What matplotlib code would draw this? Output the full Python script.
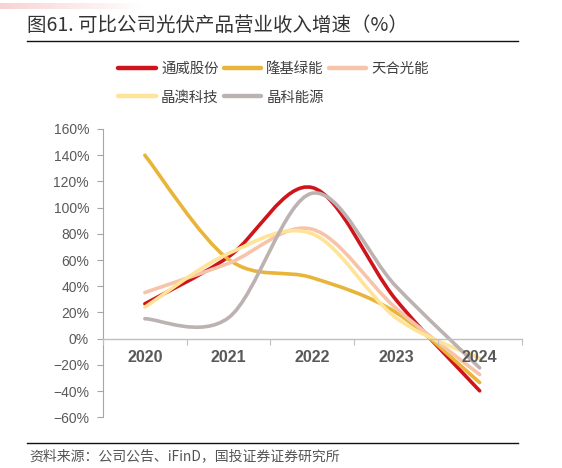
import numpy as np
import matplotlib
matplotlib.use("Agg")
import matplotlib.pyplot as plt
from matplotlib.path import Path
from matplotlib.patches import PathPatch
from matplotlib.lines import Line2D
from matplotlib.ticker import FuncFormatter, FixedLocator

plt.rcParams['font.family'] = ['Noto Sans CJK SC', 'DejaVu Sans']

years = ["2020", "2021", "2022", "2023", "2024"]
tongwei = [26.6, 62.5, 115.3, 29.7, -39.8]
longi = [140.0, 60.5, 46.5, 20.0, -33.5]
trina = [35.2, 57.5, 83.5, 23.3, -27.4]
jaso = [24.0, 65.0, 80.0, 16.0, -15.0]
jinko = [15.2, 16.0, 111.0, 40.0, -22.3]

names = ["通威股份", "隆基绿能", "天合光能", "晶澳科技", "晶科能源"]
colors = ["#D0141C", "#E8B53A", "#F7C4AA", "#FFE397", "#BDB2B2"]
series = [tongwei, longi, trina, jaso, jinko]

TXT = "#595959"


def smooth_path(xs, ys):
    # excel-like smoothed line: cubic bezier through the points
    pts = np.column_stack([xs, ys]).astype(float)
    n = len(pts)
    verts = [tuple(pts[0])]
    codes = [Path.MOVETO]
    for i in range(n - 1):
        p0 = pts[i - 1] if i > 0 else pts[i]
        p3 = pts[i + 2] if i + 2 < n else pts[i + 1]
        c1 = pts[i] + (pts[i + 1] - p0) / 6
        c2 = pts[i + 1] - (p3 - pts[i]) / 6
        verts += [tuple(c1), tuple(c2), tuple(pts[i + 1])]
        codes += [Path.CURVE4] * 3
    return Path(verts, codes)


fig = plt.figure(figsize=(5.62, 4.68), dpi=100)
ax = fig.add_axes([103 / 562, 1 - 417.3 / 468, 418.5 / 562, 288.3 / 468])

x = np.arange(len(years))
for vals, c in zip(series, colors):
    p = PathPatch(smooth_path(x, vals), facecolor="none", edgecolor=c,
                  lw=2.6, capstyle="round", zorder=2)
    ax.add_patch(p)

ax.set_xlim(-0.5, len(years) - 0.5)
ax.set_ylim(-60, 160)
ax.set_yticks(np.arange(-60, 161, 20))
ax.yaxis.set_major_formatter(FuncFormatter(lambda v, _: f"{v:.0f}%".replace("-", "\u2212")))

for s in ["top", "right"]:
    ax.spines[s].set_visible(False)
ax.spines["left"].set_color("#A6A6A6")
ax.spines["left"].set_linewidth(0.8)
ax.spines["bottom"].set_position(("data", 0))
ax.spines["bottom"].set_color("#BFBFBF")
ax.spines["bottom"].set_linewidth(1.0)

ax.set_xticks(x)
ax.set_xticklabels(years)
ax.xaxis.set_minor_locator(FixedLocator(np.arange(-0.5, len(years), 1.0)))
ax.tick_params(axis="x", which="major", length=0, pad=8, labelsize=11.5, labelcolor=TXT)
ax.tick_params(axis="x", which="minor", length=4, width=0.8, color="#BFBFBF", direction="out")
ax.tick_params(axis="y", length=4, width=0.8, color="#A6A6A6", pad=6, labelsize=10, labelcolor=TXT)
for lab in ax.get_xticklabels() + ax.get_yticklabels():
    lab.set_fontfamily(["Liberation Sans", "DejaVu Sans"])
for lab in ax.get_xticklabels():
    lab.set_fontweight("bold")
# year labels sit on top of the lines, like the source
ax.xaxis.set_zorder(3)

# legend, reordered so rows read left to right
handles = [Line2D([], [], color=c, lw=3.2, solid_capstyle="round") for c in colors]
order = [0, 3, 1, 4, 2]
fig.legend([handles[i] for i in order], [names[i] for i in order], ncol=3,
           loc="center", bbox_to_anchor=(0.487, 0.822), frameon=False,
           fontsize=10.4, handlelength=2.6, handletextpad=0.35,
           columnspacing=0.35, labelspacing=1.0, labelcolor="#404040")

# title and rules
fig.text(27 / 562, 1 - 25 / 468, "图61. 可比公司光伏产品营业收入增速（%）", fontsize=14,
         fontweight="medium", color="#333333", va="center", ha="left")
fig.add_artist(Line2D([27 / 562, 518 / 562], [1 - 40.5 / 468] * 2, color="#111111", lw=1.0))
fig.add_artist(Line2D([27 / 562, 518 / 562], [1 - 443 / 468] * 2, color="#111111", lw=1.0))
fig.text(29 / 562, 1 - 456 / 468, "资料来源：公司公告、iFinD，国投证券证券研究所", fontsize=10,
         color="#555555", va="center", ha="left", style="italic")

# faint pink band at the top left
band = fig.add_axes([0, 1 - 9 / 468, 145 / 562, 6 / 468])
grad = np.linspace(0, 1, 256)[None, :]
band.imshow(grad, aspect="auto", cmap=matplotlib.colors.LinearSegmentedColormap.from_list(
    "band", ["#F8D3D3", "#FFFFFF"]))
band.axis("off")

fig.savefig("out.png", dpi=100)
